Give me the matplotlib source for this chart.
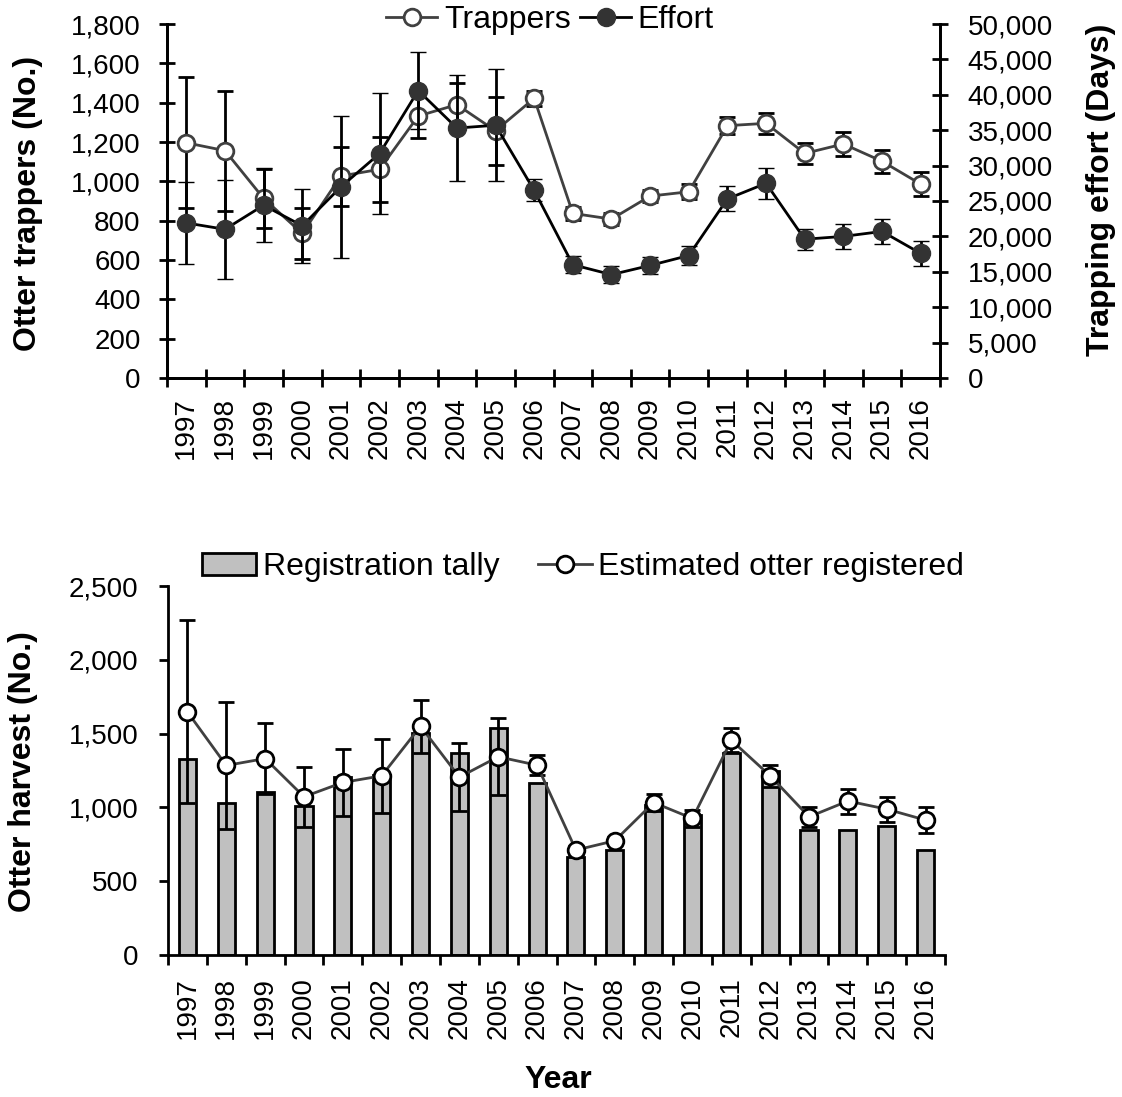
import numpy as np
import matplotlib.pyplot as plt
from matplotlib.lines import Line2D
from matplotlib.patches import Patch
from matplotlib.ticker import FuncFormatter

plt.rcParams['font.family'] = ['Liberation Sans', 'DejaVu Sans']
plt.rcParams['font.size'] = 20

# Data
years = [str(y) for y in range(1997, 2017)]

trappers = [1196, 1156, 913, 735, 1027, 1061, 1332, 1390, 1257, 1422,
            837, 808, 925, 947, 1283, 1295, 1142, 1190, 1102, 986]
trappers_err = [333, 305, 150, 130, 150, 165, 113, 110, 172, 39,
                35, 32, 32, 39, 42, 52, 52, 60, 59, 61]

effort = [21900, 21000, 24400, 21500, 27000, 31700, 40600, 35300, 35700, 26500,
          16000, 14600, 15900, 17300, 25300, 27500, 19600, 20000, 20700, 17600]
effort_err = [5800, 7000, 5200, 5200, 10000, 8600, 5400, 7500, 7900, 1550,
              1180, 1180, 1250, 1370, 1770, 2210, 1460, 1720, 1770, 1790]

tally = [1331, 1033, 1106, 1011, 1203, 1219, 1505, 1370, 1539, 1162,
         666, 711, 1015, 948, 1370, 1246, 846, 846, 876, 711]
estimated = [1647, 1284, 1331, 1072, 1169, 1214, 1550, 1205, 1343, 1286,
             711, 774, 1033, 925, 1455, 1214, 936, 1043, 988, 914]
estimated_err = [620, 428, 240, 205, 230, 250, 180, 232, 260, 68,
                 25, 25, 58, 60, 82, 75, 70, 85, 84, 86]

W, H = 1122, 1097
def box(l, t, r, b):
    return [l / W, 1 - b / H, (r - l) / W, (b - t) / H]

comma = FuncFormatter(lambda v, p: '{:,.0f}'.format(v))
x = np.arange(len(years))
LAB = 23   # axis label / legend size

fig = plt.figure(figsize=(W / 100, H / 100), dpi=100)

# ---- top panel ----
ax1 = fig.add_axes(box(167, 24, 940, 378))
ax2 = ax1.twinx()

ax1.errorbar(x, trappers, yerr=trappers_err, color='#404040', lw=2,
             marker='o', ms=12, mfc='white', mec='#404040', mew=2,
             ecolor='black', elinewidth=2, capsize=6, capthick=2)
ax2.errorbar(x, effort, yerr=effort_err, color='black', lw=2,
             marker='o', ms=13, mfc='#333333', mec='#333333', mew=1,
             ecolor='black', elinewidth=2, capsize=6, capthick=2)

ax1.set_ylim(0, 1800)
ax1.set_yticks(range(0, 1801, 200))
ax1.yaxis.set_major_formatter(comma)
ax2.set_ylim(0, 50000)
ax2.set_yticks(range(0, 50001, 5000))
ax2.yaxis.set_major_formatter(comma)

ax1.set_xlim(-0.5, len(years) - 0.5)
ax1.set_xticks(np.arange(-0.5, len(years), 1))
ax1.set_xticklabels([])
ax1.set_xticks(x, minor=True)
ax1.set_xticklabels(years, minor=True, rotation=90)
ax1.tick_params(axis='x', which='major', direction='inout', length=13, width=2)
ax1.tick_params(axis='x', which='minor', direction='out', length=0, pad=14, labelsize=20)
ax1.tick_params(axis='y', direction='inout', length=12, width=2, pad=13, labelsize=20)
ax2.tick_params(axis='y', direction='inout', length=12, width=2, pad=14, labelsize=20)

for a in (ax1, ax2):
    a.spines['top'].set_visible(False)
    for s in ('left', 'right', 'bottom'):
        a.spines[s].set_linewidth(2)

fig.text(28 / W, 1 - 203 / H, 'Otter trappers (No.)', rotation=90,
         ha='center', va='center', fontsize=LAB, fontweight='bold')
fig.text(1101 / W, 1 - 190 / H, 'Trapping effort (Days)', rotation=90,
         ha='center', va='center', fontsize=LAB, fontweight='bold')

h1 = [Line2D([], [], color='#404040', lw=2, marker='o', ms=12, mfc='white',
             mec='#404040', mew=2),
      Line2D([], [], color='black', lw=2, marker='o', ms=13, mfc='#333333',
             mec='#333333')]
fig.legend(h1, ['Trappers', 'Effort'], loc='center',
           bbox_to_anchor=(550 / W, 1 - 20 / H), ncol=2, frameon=False,
           handlelength=1.6, handletextpad=0.2, columnspacing=0.3,
           borderpad=0, borderaxespad=0, fontsize=LAB)

# ---- bottom panel ----
ax3 = fig.add_axes(box(168, 586, 945, 955))
ax3.bar(x, tally, width=0.44, color='#c0c0c0', edgecolor='black', lw=2, zorder=2)
ax3.errorbar(x, estimated, yerr=estimated_err, color='#404040', lw=2,
             marker='o', ms=12, mfc='white', mec='black', mew=2,
             ecolor='black', elinewidth=2, capsize=6, capthick=2, zorder=3)

ax3.set_ylim(0, 2500)
ax3.set_yticks(range(0, 2501, 500))
ax3.yaxis.set_major_formatter(comma)
ax3.set_xlim(-0.5, len(years) - 0.5)
ax3.set_xticks(np.arange(-0.5, len(years), 1))
ax3.set_xticklabels([])
ax3.set_xticks(x, minor=True)
ax3.set_xticklabels(years, minor=True, rotation=90)
ax3.tick_params(axis='x', which='major', direction='out', length=7, width=2)
ax3.tick_params(axis='x', which='minor', direction='out', length=0, pad=16, labelsize=20)
ax3.tick_params(axis='y', direction='out', length=6.5, width=2, pad=15, labelsize=20)
ax3.spines['top'].set_visible(False)
ax3.spines['right'].set_visible(False)
for s in ('left', 'bottom'):
    ax3.spines[s].set_linewidth(2)

fig.text(23 / W, 1 - 772 / H, 'Otter harvest (No.)', rotation=90,
         ha='center', va='center', fontsize=LAB, fontweight='bold')
fig.text(558 / W, 1 - 1080 / H, 'Year', ha='center', va='center',
         fontsize=LAB, fontweight='bold')

h2 = [Patch(facecolor='#c0c0c0', edgecolor='black', lw=2),
      Line2D([], [], color='#404040', lw=2, marker='o', ms=12, mfc='white',
             mec='black', mew=2)]
fig.legend(h2, ['Registration tally', 'Estimated otter registered'], loc='center',
           bbox_to_anchor=(583 / W, 1 - 567 / H), ncol=2, frameon=False,
           handlelength=1.7, handletextpad=0.2, columnspacing=1.2,
           borderpad=0, borderaxespad=0, fontsize=LAB)

fig.savefig('out.png', dpi=100)
